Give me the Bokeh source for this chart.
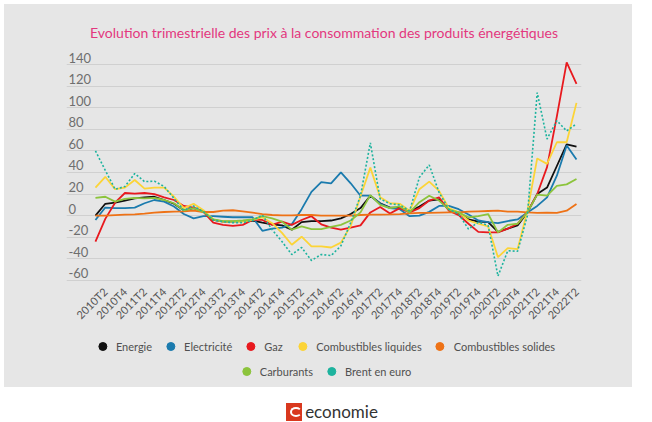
import math
from bokeh.plotting import figure
from bokeh.models import ColumnDataSource, FixedTicker, Legend, LegendItem, Range1d, Div
from bokeh.layouts import column
from bokeh.core.properties import value
from bokeh.embed import file_html
from bokeh.resources import INLINE

# ---------------- data ----------------
quarters = [
    "2010T1", "2010T2", "2010T3", "2010T4", "2011T1", "2011T2", "2011T3", "2011T4",
    "2012T1", "2012T2", "2012T3", "2012T4", "2013T1", "2013T2", "2013T3", "2013T4",
    "2014T1", "2014T2", "2014T3", "2014T4", "2015T1", "2015T2", "2015T3", "2015T4",
    "2016T1", "2016T2", "2016T3", "2016T4", "2017T1", "2017T2", "2017T3", "2017T4",
    "2018T1", "2018T2", "2018T3", "2018T4", "2019T1", "2019T2", "2019T3", "2019T4",
    "2020T1", "2020T2", "2020T3", "2020T4", "2021T1", "2021T2", "2021T3", "2021T4",
    "2022T1", "2022T2",
]
energie = [0, 11, 12, 14, 16, 17, 17.5, 14.5, 11, 5,
           7, 4, -4, -5.5, -5.5, -5, -4.5, -6.5, -8, -9,
           -13, -6, -5, -5, -4.5, -2.5, 1.5, 7, 18.5, 11.5,
           7.5, 7.5, 3.5, 8.5, 14, 15, 5.5, 2.5, -3.5, -5.5,
           -6, -15, -12, -9, 3, 20, 26, 46, 66, 64]
electricite = [-4, 7.5, 7, 7, 7.5, 11.5, 14.5, 13, 8.5, 1.5,
               -2.5, -0.5, -0.5, -1, -1.5, -1.5, -1.5, -14, -12, -11,
               -8, 6, 22, 31, 30, 40, 30, 18.5, 18.5, 11,
               7, 6, -0.5, 0, 3.5, 9, 9, 6, 1, -4.5,
               -6, -7, -5, -3.5, 3, 9, 17, 37, 65, 52]
gaz = [-24, -3, 12, 21, 20.5, 21, 20, 17, 14.5, 9,
       7.5, 3.5, -6.5, -8.5, -9.5, -8.5, -4, -4, -8.5, -5.5,
       -8.5, -4, -0.5, -8, -11, -13, -11, -9, 3, 8,
       2, 7, 3, 7, 14, 17, 4.5, 0.5, -7.5, -15,
       -15.5, -15.5, -12, -7.5, 3.5, 20, 45, 92, 142, 122]
comb_liquides = [26, 36, 24.5, 26, 33, 25, 26, 26, 17.5, 7,
                 11, 5, -3.5, -5.5, -5.5, -5.5, -4, -1.5, -7, -16,
                 -27, -19.5, -28.5, -28.5, -29.5, -25, -9.5, 18, 44.5, 17,
                 11.5, 11, 4.5, 24.5, 31.5, 23, 7, 3, -4.5, -7.5,
                 -10, -38.5, -30, -31, 4.5, 53, 48, 68, 68, 104.5]
comb_solides = [0, 0, 0.5, 1, 1.2, 1.8, 2.8, 3.4, 3.7, 4,
                4.6, 3.4, 3.4, 4.6, 5, 4, 2.8, 1.5, 0.6, 0.3,
                0.3, 0.6, 0.6, 0, 0, 0, 0, 0.6, 1, 1,
                1.2, 1.5, 2.2, 2.5, 2.5, 2.8, 3, 3, 3.7, 4,
                4.3, 4.6, 3.7, 3.7, 3, 2.5, 2.8, 2.5, 4.6, 10.8]
carburants = [16.5, 17.5, 13, 15.5, 16.5, 16, 16.5, 14.5, 11.5, 5,
              7, 3.5, -3.5, -5, -5, -4.5, -3.5, -0.5, -2.5, -5.5,
              -13, -10, -12.5, -12.5, -10.5, -8.5, -4.5, 3, 19, 10,
              7, 8.5, 3, 12.5, 18.5, 14, 5.5, 3, -1.5, -0.5,
              1.5, -15.5, -8.5, -7.5, 3, 19.5, 18.5, 27.5, 29, 34]
brent = [60, 42, 24.5, 27, 39, 31.5, 32, 27, 16, 5,
         9, 3.5, -4, -5.5, -6.5, -6.5, -4.5, 0.5, -13, -24,
         -36, -29.5, -41.5, -36, -37, -28, -6.5, 18.5, 67.5, 15.5,
         11, 10, 4.5, 35.5, 47, 21.5, 6, 1.5, -12.5, -6,
         -9, -56, -32.5, -33, 0, 114, 71, 88, 78.5, 85]

series_names = ["Energie", "Electricité", "Gaz", "Combustibles liquides",
                "Combustibles solides", "Carburants", "Brent en euro"]
series_keys = ["energie", "electricite", "gaz", "comb_liquides",
               "comb_solides", "carburants", "brent"]
series_colors = ["#111111", "#1B7BAE", "#E8191E", "#FCD437",
                 "#EE7216", "#8CC43C", "#1DB39E"]
series_dash = ["solid", "solid", "solid", "solid", "solid", "solid", "2 2"]
y_ticks = [-60, -40, -20, 0, 20, 40, 60, 80, 100, 120, 140]
title_text = "Evolution trimestrielle des prix à la consommation des produits énergétiques"

BG = "#E6E6E6"
FONT = "Lato"

x_idx = list(range(len(quarters)))
label_idx = [i for i, q in enumerate(quarters) if q.endswith("T2") or q.endswith("T4")]

src = ColumnDataSource(dict(
    x=x_idx, energie=energie, electricite=electricite, gaz=gaz,
    comb_liquides=comb_liquides, comb_solides=comb_solides,
    carburants=carburants, brent=brent,
))

# ---------------- main chart ----------------
x_start, x_end = -2.95, 49.51
p = figure(width=628, height=329, output_backend="svg", toolbar_location=None,
           x_range=Range1d(x_start, x_end), y_range=Range1d(-61, 153),
           min_border_left=62, min_border_right=51, min_border_top=46, min_border_bottom=52,
           background_fill_color=BG, border_fill_color=BG, outline_line_color=None,
           title=title_text)
p.title.align = "center"
p.title.text_font = FONT
p.title.text_font_size = "14px"
p.title.text_font_style = "normal"
p.title.text_color = "#E3387E"
p.title.standoff = 19

p.yaxis.visible = False
p.xgrid.visible = False
p.ygrid.ticker = FixedTicker(ticks=y_ticks)
p.ygrid.grid_line_color = "#D0D0D0"
p.ygrid.grid_line_width = 1.2

xa = p.xaxis[0]
xa.ticker = FixedTicker(ticks=label_idx)
xa.major_label_overrides = {i: quarters[i] for i in label_idx}
xa.major_label_orientation = math.pi / 4
xa.axis_line_color = None
xa.major_tick_line_color = None
xa.minor_tick_line_color = None
xa.major_tick_out = 0
xa.major_label_standoff = 8
xa.major_label_text_font = FONT
xa.major_label_text_font_size = "11px"
xa.major_label_text_color = "#555555"

# y tick labels, sitting just above their grid lines
p.text(x=[x_start] * len(y_ticks), y=y_ticks, text=[str(t) for t in y_ticks],
       x_offset=2, y_offset=-7, text_align="left", text_baseline="middle",
       text_font=value(FONT), text_font_size="13px", text_color="#6E6E6E")

for key, col, dash in zip(series_keys, series_colors, series_dash):
    p.line("x", key, source=src, line_color=col, line_width=1.8 if dash == "solid" else 1.6,
           line_dash=dash)

# ---------------- legend strip ----------------
lg = figure(width=628, height=54, output_backend="svg", toolbar_location=None,
            min_border=0, background_fill_color=BG, border_fill_color=BG,
            outline_line_color=None, x_axis_type=None, y_axis_type=None)
lg.grid.visible = False
rs = []
for key, col in zip(series_keys, series_colors):
    rs.append(lg.scatter("x", key, source=src, size=0, fill_color=col, line_color=col))

def make_legend(names, rends, loc, margin):
    leg = Legend(items=[LegendItem(label=n, renderers=[r]) for n, r in zip(names, rends)],
                 location=loc, orientation="horizontal", glyph_width=20, glyph_height=20,
                 label_height=20, label_standoff=4, spacing=8, padding=0, margin=margin,
                 border_line_color=None, background_fill_alpha=0,
                 label_text_font=FONT, label_text_font_size="11px", label_text_color="#505050")
    return leg

lg.add_layout(make_legend(series_names[:5], rs[:5], "top_center", 3))
lg.add_layout(make_legend(series_names[5:], rs[5:], "bottom_center", 6))

# ---------------- logo ----------------
logo = Div(text=(
    '<div style="display:flex;align-items:flex-end;justify-content:center;'
    'width:628px;height:30px;background:#ffffff;padding-left:18px;padding-bottom:1px;'
    'box-sizing:border-box;">'
    '<span style="display:inline-block;width:16px;height:18px;background:#D9381E;'
    'margin-right:3px;position:relative;overflow:hidden;">'
    '<span style="position:absolute;left:4px;top:4px;width:12px;height:10px;'
    'border:2px solid #ffffff;border-radius:50%;border-right-color:transparent;"></span>'
    '</span>'
    '<span style="font-family:Lato;font-size:17px;line-height:18px;color:#333333;">economie</span>'
    '</div>'), width=628, height=30)

chart = column(p, lg, spacing=0, width=628, height=383,
               styles={"background-color": BG})
layout = column(chart, logo, spacing=0, margin=(4, 0, 0, 4))
open("out.html", "w").write(file_html(layout, INLINE))
